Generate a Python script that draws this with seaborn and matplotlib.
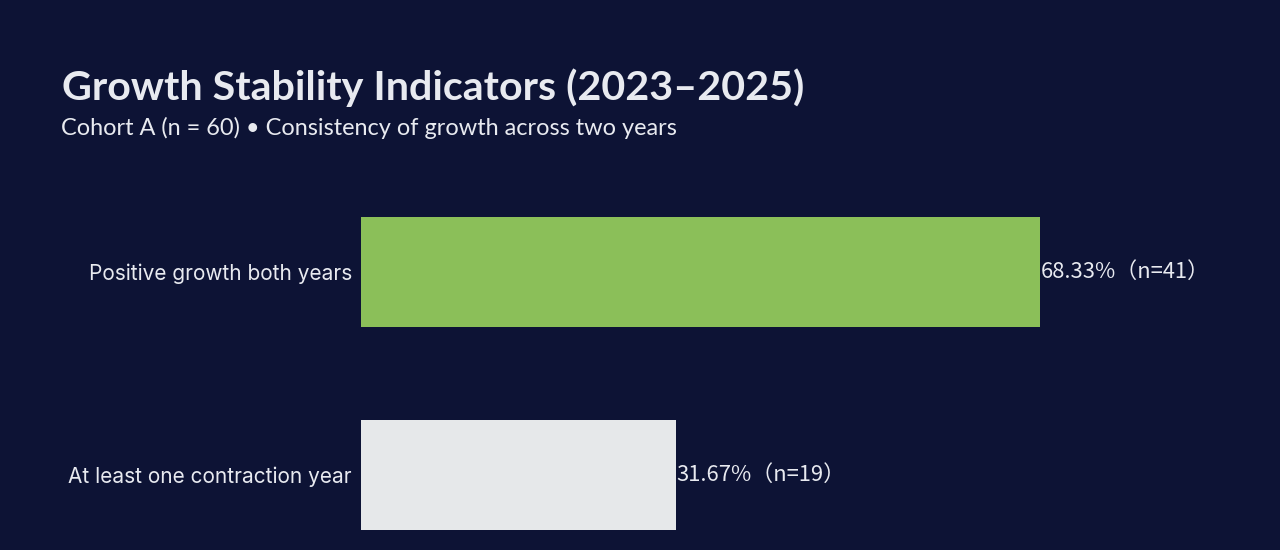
import matplotlib
matplotlib.use("Agg")
import matplotlib.pyplot as plt
import seaborn as sns
import pandas as pd

# data
categories = ["Positive growth both years", "At least one contraction year"]
shares = [68.33, 31.67]
counts = [41, 19]
bar_colors = ["#8bbf59", "#e6e8ea"]

bg = "#0d1335"
fg = "#e8eaf0"

sns.set_theme(style="white")
plt.rcParams["font.family"] = ["Lato", "DejaVu Sans"]

df = pd.DataFrame({"category": categories, "share": shares})

fig = plt.figure(figsize=(12.8, 5.5), dpi=100, facecolor=bg)
W, H = 1280, 550
ax = fig.add_axes([361 / W, 0, (1176 - 361) / W, (550 - 170.5) / H])
ax.set_facecolor(bg)

sns.barplot(data=df, y="category", x="share", hue="category", palette=bar_colors,
            orient="h", width=0.54, saturation=1, linewidth=0, legend=False, ax=ax)

ax.set_xlim(0, max(shares) * 1.2)
ax.set_ylim(-0.5 + (550 - 170.5) / 203, -0.5)
ax.set_xlabel("")
ax.set_ylabel("")
ax.set_xticks([])
ax.tick_params(axis="y", length=0, pad=6.5, labelsize=15, labelcolor=fg)
for lab in ax.get_yticklabels():
    lab.set_family(["Inter", "DejaVu Sans"])
for s in ax.spines.values():
    s.set_visible(False)

for i, (v, n) in enumerate(zip(shares, counts)):
    ax.text(v + 0.1, i, f"{v:.2f}%（n={n}）", va="center", ha="left",
            color=fg, fontsize=15.8, family=["Noto Sans CJK SC", "DejaVu Sans"])

fig.text(62 / W, 1 - 88 / H, "Growth Stability Indicators (2023–2025)",
         color=fg, fontsize=29.7, fontweight="bold", va="center", ha="left")
fig.text(61 / W, 1 - 128 / H, "Cohort A (n = 60) • Consistency of growth across two years",
         color=fg, fontsize=16.9, va="center", ha="left")

fig.savefig("out.png", dpi=100, facecolor=bg)
